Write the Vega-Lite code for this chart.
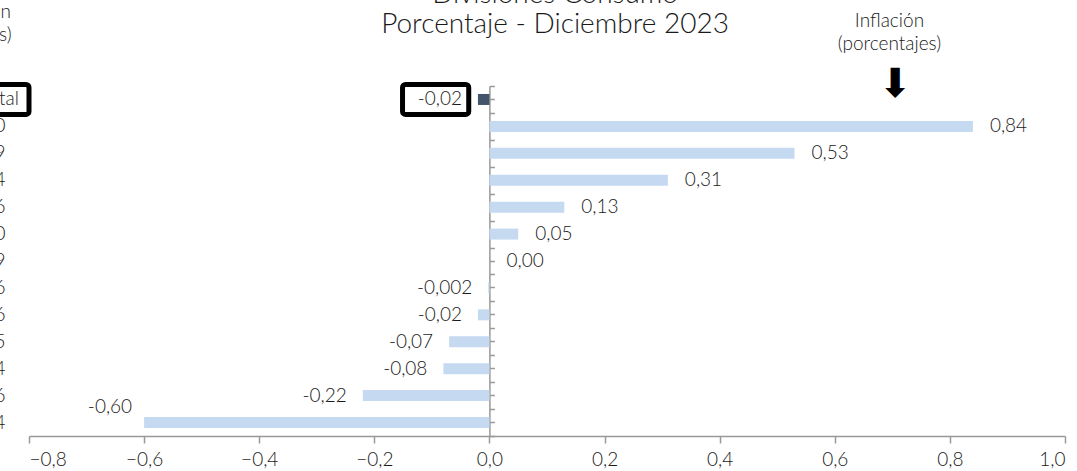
{
  "$schema": "https://vega.github.io/schema/vega-lite/v6.json",
  "width": 1036,
  "height": 350,
  "autosize": {"type": "none"},
  "padding": {"left": 29, "top": 86, "right": 12, "bottom": 35},
  "background": "white",
  "config": {
    "font": "Lato",
    "view": {"stroke": null},
    "axis": {"grid": false},
    "text": {"font": "Lato", "fontSize": 19, "color": "#1a1a1a", "fontWeight": 300}
  },
  "data": {
    "values": [
      {"division": "Total", "inflacion": -0.02, "etiqueta": "-0,02"},
      {"division": "Bebidas alcohólicas y tabaco   0,80", "inflacion": 0.84, "etiqueta": "0,84"},
      {"division": "Educación   6,79", "inflacion": 0.53, "etiqueta": "0,53"},
      {"division": "Salud   7,34", "inflacion": 0.31, "etiqueta": "0,31"},
      {"division": "Bienes y servicios diversos   9,36", "inflacion": 0.13, "etiqueta": "0,13"},
      {"division": "Restaurantes y hoteles   10,60", "inflacion": 0.05, "etiqueta": "0,05"},
      {"division": "Comunicaciones   4,89", "inflacion": 0.0, "etiqueta": "0,00"},
      {"division": "Muebles y artículos para el hogar   5,86", "inflacion": -0.002, "etiqueta": "-0,002"},
      {"division": "Recreación y cultura   6,26", "inflacion": -0.02, "etiqueta": "-0,02"},
      {"division": "Alojamiento, agua, electricidad y gas   8,35", "inflacion": -0.07, "etiqueta": "-0,07"},
      {"division": "Prendas de vestir y calzado   7,64", "inflacion": -0.08, "etiqueta": "-0,08"},
      {"division": "Alimentos y bebidas no alcohólicas   22,46", "inflacion": -0.22, "etiqueta": "-0,22"},
      {"division": "Transporte   14,74", "inflacion": -0.6, "etiqueta": "-0,60"}
    ]
  },
  "layer": [
    {
      "mark": {"type": "bar", "size": 11},
      "encoding": {
        "y": {
          "field": "division", "type": "nominal", "sort": null,
          "scale": {"paddingInner": 0, "paddingOuter": 0},
          "axis": {
            "orient": "left", "title": null, "ticks": false, "tickSize": 0, "domain": false,
            "labelPadding": 24, "labelFontSize": 19, "labelColor": "#1a1a1a", "labelFont": "Lato",
            "labelFontWeight": 300, "labelLimit": 600,
            "labelExpr": "datum.value == 'Total' ? '' : datum.value"
          }
        },
        "x": {
          "field": "inflacion", "type": "quantitative",
          "scale": {"domain": [-0.8, 1.0], "nice": false, "zero": false},
          "axis": {
            "title": null, "values": [-0.8, -0.6, -0.4, -0.2, 0, 0.2, 0.4, 0.6, 0.8, 1.0],
            "labelExpr": "replace(format(datum.value, '.1f'), '.', ',')",
            "domainColor": "#999999", "domainWidth": 1.5, "tickColor": "#999999", "tickWidth": 1.5,
            "tickSize": 7, "labelPadding": 7, "labelFontSize": 19, "labelColor": "#1a1a1a", "labelFont": "Lato",
            "labelFontWeight": 300
          }
        },
        "color": {
          "condition": {"test": "datum.division == 'Total'", "value": "#44546A"},
          "value": "#C5D9F1"
        }
      }
    },
    {
      "transform": [{"filter": "datum.inflacion >= 0"}],
      "mark": {"type": "text", "align": "left", "baseline": "middle", "dx": 17, "fontWeight": 300},
      "encoding": {
        "y": {
          "field": "division", "type": "nominal", "sort": null,
          "axis": {
            "orient": "right", "offset": -575.6, "title": null, "labels": false,
            "tickBand": "extent", "tickSize": 5, "tickColor": "#999999", "tickWidth": 1.5,
            "domainColor": "#999999", "domainWidth": 1.5
          }
        },
        "x": {"field": "inflacion", "type": "quantitative"},
        "text": {"field": "etiqueta"}
      }
    },
    {
      "transform": [{"filter": "datum.inflacion < 0 && datum.inflacion > -0.5"}],
      "mark": {"type": "text", "align": "right", "baseline": "middle", "dx": -16, "fontWeight": 300},
      "encoding": {
        "y": {
          "field": "division", "type": "nominal", "sort": null,
          "axis": {
            "orient": "right", "offset": -575.6, "title": null, "labels": false,
            "tickBand": "center", "tickSize": 5, "tickColor": "#999999", "tickWidth": 1.5,
            "domain": false
          }
        },
        "x": {"field": "inflacion", "type": "quantitative"},
        "text": {"field": "etiqueta"}
      }
    },
    {
      "transform": [{"filter": "datum.inflacion <= -0.5"}],
      "mark": {"type": "text", "align": "right", "baseline": "middle", "dx": -12, "dy": -16, "fontWeight": 300},
      "encoding": {
        "y": {"field": "division", "type": "nominal", "sort": null, "axis": null},
        "x": {"field": "inflacion", "type": "quantitative"},
        "text": {"field": "etiqueta"}
      }
    },
    {
      "data": {"values": [{}]},
      "mark": {"type": "bar", "size": 30, "fill": "white", "fillOpacity": 0, "stroke": "black", "strokeWidth": 5, "cornerRadius": 3},
      "encoding": {
        "y": {"datum": "Total", "type": "nominal", "axis": null},
        "x": {"datum": -0.151, "type": "quantitative"},
        "x2": {"datum": -0.036}
      }
    },
    {
      "data": {"values": [{}]},
      "mark": {"type": "bar", "size": 30, "fill": "white", "fillOpacity": 0, "stroke": "black", "strokeWidth": 5, "cornerRadius": 3},
      "encoding": {
        "y": {"datum": "Total", "type": "nominal", "axis": null},
        "x": {"datum": -0.95, "type": "quantitative"},
        "x2": {"datum": -0.8}
      }
    },
    {
      "data": {"values": [{}]},
      "mark": {"type": "text", "text": "Total", "align": "right", "baseline": "middle", "dx": -10, "fontWeight": 300},
      "encoding": {
        "y": {"datum": "Total", "type": "nominal", "axis": null},
        "x": {"datum": -0.8, "type": "quantitative"}
      }
    },
    {
      "data": {"values": [{}]},
      "mark": {"type": "text", "text": ["Divisiones Consumo", "Porcentaje - Diciembre 2023"], "align": "center", "baseline": "alphabetic", "dy": -96.5, "lineHeight": 30, "fontSize": 28, "fontWeight": 300},
      "encoding": {
        "y": {"datum": "Total", "type": "nominal", "axis": null},
        "x": {"datum": 0.114, "type": "quantitative"}
      }
    },
    {
      "data": {"values": [{}]},
      "mark": {"type": "text", "text": ["Inflación", "(porcentajes)"], "align": "center", "baseline": "middle", "dy": -78, "lineHeight": 23, "fontSize": 19, "fontWeight": 300},
      "encoding": {
        "y": {"datum": "Total", "type": "nominal", "axis": null},
        "x": {"datum": 0.695, "type": "quantitative"}
      }
    },
    {
      "data": {"values": [{}]},
      "mark": {"type": "text", "text": ["Ponderación", "(porcentajes)"], "align": "center", "baseline": "middle", "dy": -87, "lineHeight": 23, "fontSize": 19, "fontWeight": 300},
      "encoding": {
        "y": {"datum": "Total", "type": "nominal", "axis": null},
        "x": {"datum": -0.92, "type": "quantitative"}
      }
    },
    {
      "data": {"values": [{}]},
      "mark": {"type": "text", "text": "⬇", "font": "DejaVu Sans", "fontSize": 40, "align": "center", "baseline": "middle", "dy": -14, "color": "black", "fontWeight": "normal"},
      "encoding": {
        "y": {"datum": "Total", "type": "nominal", "axis": null},
        "x": {"datum": 0.705, "type": "quantitative"}
      }
    }
  ],
  "resolve": {"axis": {"y": "independent"}}
}
